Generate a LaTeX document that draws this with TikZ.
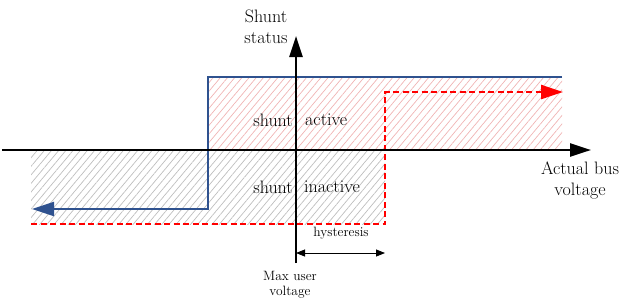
\documentclass[tikz,border=0pt]{standalone}
\usetikzlibrary{arrows.meta,patterns.meta}
\definecolor{shuntblue}{HTML}{2F528F}
\definecolor{hatchred}{HTML}{F0B4B4}
\definecolor{hatchgrey}{HTML}{BEBEBE}
\tikzset{
  axis/.style={line width=2.4pt, -{Triangle[length=21pt,width=13pt]}},
  onpath/.style={line width=2pt, shuntblue, -{Triangle[length=22pt,width=14pt]}},
  offpath/.style={line width=2.4pt, red, dash pattern=on 6pt off 3.5pt,
    -{Triangle[length=22pt,width=14pt]}},
  hatch/.style={pattern={Lines[angle=50,distance=5.5pt,line width=0.7pt]},
    pattern color=#1},
  bigtxt/.style={font=\fontsize{18}{21}\selectfont, inner sep=0pt},
  smalltxt/.style={font=\fontsize{13.5}{15.5}\selectfont, inner sep=0pt, align=center}
}
\begin{document}
\begin{tikzpicture}[x=1pt,y=-1pt]
  \useasboundingbox (0,0) rectangle (634,306);

  % Zonas sombreadas.
  \fill[hatch=hatchred] (208,77) rectangle (562,150);
  \fill[hatch=hatchgrey] (31,150) rectangle (385,224);

  % Pontos de referência.
  \coordinate (xstart) at (2,150);
  \coordinate (xend) at (591,150);
  \coordinate (ystart) at (296,263);
  \coordinate (yend) at (296,36);
  \coordinate (on1) at (562,77);
  \coordinate (on2) at (208,77);
  \coordinate (on3) at (208,209);
  \coordinate (on4) at (32,209);
  \coordinate (off1) at (31,224);
  \coordinate (off2) at (385,224);
  \coordinate (off3) at (385,92);
  \coordinate (off4) at (563,92);
  \coordinate (hysl) at (296,253);
  \coordinate (hysr) at (385,253);

  % Curva de histerese.
  \draw[offpath] (off1) -- (off2) -- (off3) -- (off4);
  \draw[onpath] (on1) -- (on2) -- (on3) -- (on4);

  % Eixos.
  \draw[axis] (xstart) -- (xend);
  \draw[axis] (ystart) -- (yend);

  % Faixa de histerese.
  \draw[line width=0.8pt, {Triangle[length=9pt,width=7pt]}-{Triangle[length=9pt,width=7pt]}]
    (hysl) -- (hysr);

  % Textos.
  \node[bigtxt, align=center] (ylab) at (266,27) {Shunt\\status};
  \node[bigtxt, align=center] (xlab) at (580,180) {Actual bus\\voltage};
  \node[bigtxt, anchor=east] (sh1) at (293,120) {shunt};
  \node[bigtxt, anchor=west] (act) at (305,120) {active};
  \node[bigtxt, anchor=east] (sh2) at (293,187) {shunt};
  \node[bigtxt, anchor=west] (inact) at (304,187) {inactive};
  \node[smalltxt] (hys) at (341,233) {hysteresis};
  \node[smalltxt] (maxv) at (290,285) {Max user\\voltage};
\end{tikzpicture}
\end{document}
